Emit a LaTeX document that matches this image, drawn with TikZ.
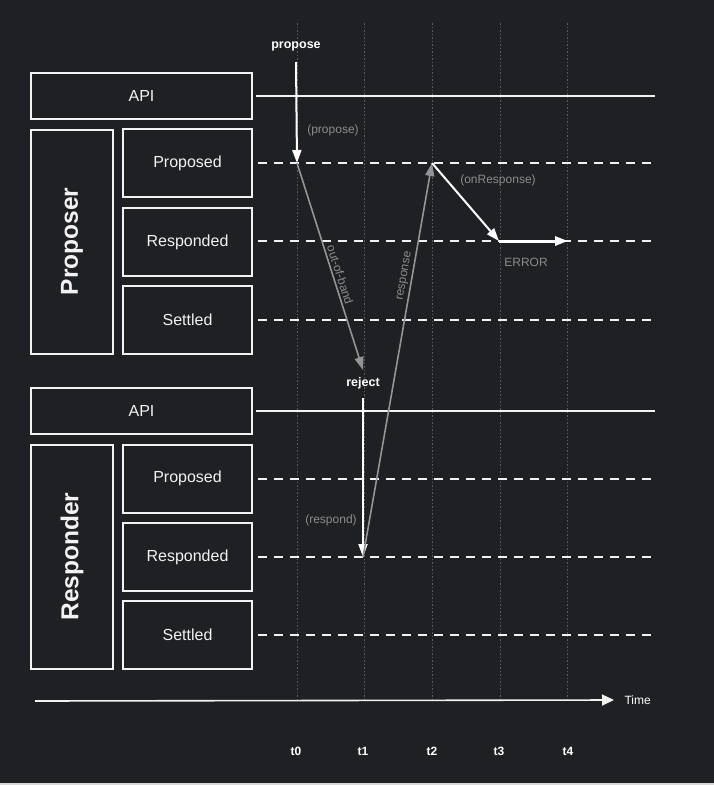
\documentclass[tikz,border=0pt]{standalone}
\usepackage{fontspec}
\setmainfont{Liberation Sans}
\usetikzlibrary{arrows.meta}
\definecolor{bg}{HTML}{1F2023}
\definecolor{fg}{HTML}{F2F2F2}
\definecolor{lbl}{HTML}{8C8C8C}
\definecolor{garrow}{HTML}{949494}
\definecolor{dotc}{HTML}{5C5C5C}
\definecolor{strip}{HTML}{D8D8D8}
\tikzset{
  box/.style={draw=fg, line width=2pt, fill=bg, text=fg, inner sep=0pt,
    minimum width=129pt, minimum height=68pt, font=\fontsize{16}{19}\selectfont},
  apibox/.style={box, minimum width=221pt, minimum height=46pt},
  rolebox/.style={box, minimum width=82pt, minimum height=224pt},
  rolelabel/.style={text=fg, rotate=90, font=\bfseries\fontsize{24.5}{28}\selectfont},
  apiline/.style={draw=fg, line width=1.3pt},
  lane/.style={draw=fg, line width=2pt, dash pattern=on 9pt off 7pt},
  tick/.style={draw=dotc, line width=0.9pt, dash pattern=on 1.5pt off 2pt},
  warrow/.style={draw=white, line width=2pt, -{Triangle[length=13pt,width=9pt]}},
  garrowst/.style={draw=garrow, line width=1.6pt, -{Triangle[length=13pt,width=9pt]}},
  glabel/.style={text=lbl, font=\fontsize{12}{14}\selectfont, inner sep=1pt},
  wlabel/.style={text=white, font=\bfseries\fontsize{12.5}{15}\selectfont, inner sep=1pt},
  tlabel/.style={text=white, font=\bfseries\fontsize{12}{14}\selectfont, inner sep=1pt}
}
\begin{document}
\begin{tikzpicture}[x=1pt,y=-1pt]
\useasboundingbox (0,0) rectangle (714,785);
\fill[bg] (0,0) rectangle (714,782.5);
\fill[strip] (0,782.5) rectangle (714,785);

% time ticks (dotted)
\foreach \n/\x in {0/297,1/364,2/432,3/500,4/567}{
  \coordinate (tt\n) at (\x,23);
  \coordinate (tb\n) at (\x,700);
  \draw[tick] (tt\n) -- (tb\n);
}

% Proposer
\node[apibox] (papi) at (141.5,96) {API};
\node[rolebox] (proposer) at (72,241.5) {};
\node[rolelabel] at (proposer.center) {Proposer};
\node[box] (pprop) at (187.5,163) {Proposed};
\node[box] (presp) at (187.5,242) {Responded};
\node[box] (psett) at (187.5,320) {Settled};

% Responder
\node[apibox] (rapi) at (141.5,411) {API};
\node[rolebox] (responder) at (72,556.5) {};
\node[rolelabel] at (responder.center) {Responder};
\node[box] (rprop) at (187.5,478.5) {Proposed};
\node[box] (rresp) at (187.5,557) {Responded};
\node[box] (rsett) at (187.5,635) {Settled};

% lane end coordinates
\coordinate (papiE) at (655,96);
\coordinate (ppropE) at (655,163);
\coordinate (prespE) at (655,241);
\coordinate (psettE) at (655,320);
\coordinate (rapiE) at (655,411);
\coordinate (rpropE) at (655,479);
\coordinate (rrespE) at (655,557);
\coordinate (rsettE) at (655,635);

\draw[apiline] ([xshift=3pt]papi.east) -- (papiE);
\draw[lane] ([xshift=5pt]pprop.east |- ppropE) -- (ppropE);
\draw[lane] ([xshift=5pt]presp.east |- prespE) -- (prespE);
\draw[lane] ([xshift=5pt]psett.east |- psettE) -- (psettE);
\draw[apiline] ([xshift=3pt]rapi.east) -- (rapiE);
\draw[lane] ([xshift=5pt]rprop.east |- rpropE) -- (rpropE);
\draw[lane] ([xshift=5pt]rresp.east |- rrespE) -- (rrespE);
\draw[lane] ([xshift=5pt]rsett.east |- rsettE) -- (rsettE);

% event points
\coordinate (e0) at (297,163);
\coordinate (e1top) at (363,370);
\coordinate (e1) at (363,557);
\coordinate (e2) at (432,163);
\coordinate (e3) at (499,241);
\coordinate (e4) at (568,241);

% propose
\node[wlabel] (propose) at (296,46) {propose};
\coordinate (prstart) at (296,62);
\draw[warrow] (prstart) -- (e0);
\node[glabel] (propl) at (333,130) {(propose)};

% out-of-band
\draw[garrowst] (e0) -- (e1top)
  node[glabel, pos=0.55, sloped, above, inner sep=2pt] (oob) {out-of-band};

% reject
\node[wlabel] (reject) at (363,383) {reject};
\coordinate (rjstart) at (363,398);
\draw[warrow] (rjstart) -- (e1);
\node[glabel] (respl) at (331,520) {(respond)};

% response
\draw[garrowst] (e1) -- (e2)
  node[glabel, pos=0.71, sloped, above, inner sep=2pt] (resp) {response};

% onResponse
\draw[warrow] (e2) -- (e3);
\node[glabel] (onr) at (498,180) {(onResponse)};

% ERROR
\draw[warrow, line width=3pt] (e3) -- (e4);
\node[glabel] (err) at (526,262) {ERROR};

% time axis
\coordinate (ax0) at (35,701);
\coordinate (ax1) at (614,700);
\draw[draw=fg, line width=1.6pt, -{Triangle[length=12pt,width=11pt]}] (ax0) -- (ax1);
\node[text=white, font=\fontsize{12}{14}\selectfont, anchor=west] (time) at (621,700.5) {Time};

\foreach \n/\x in {0/296,1/363,2/432,3/499,4/568}{
  \node[tlabel] (tl\n) at (\x,751) {t\n};
}
\end{tikzpicture}
\end{document}
